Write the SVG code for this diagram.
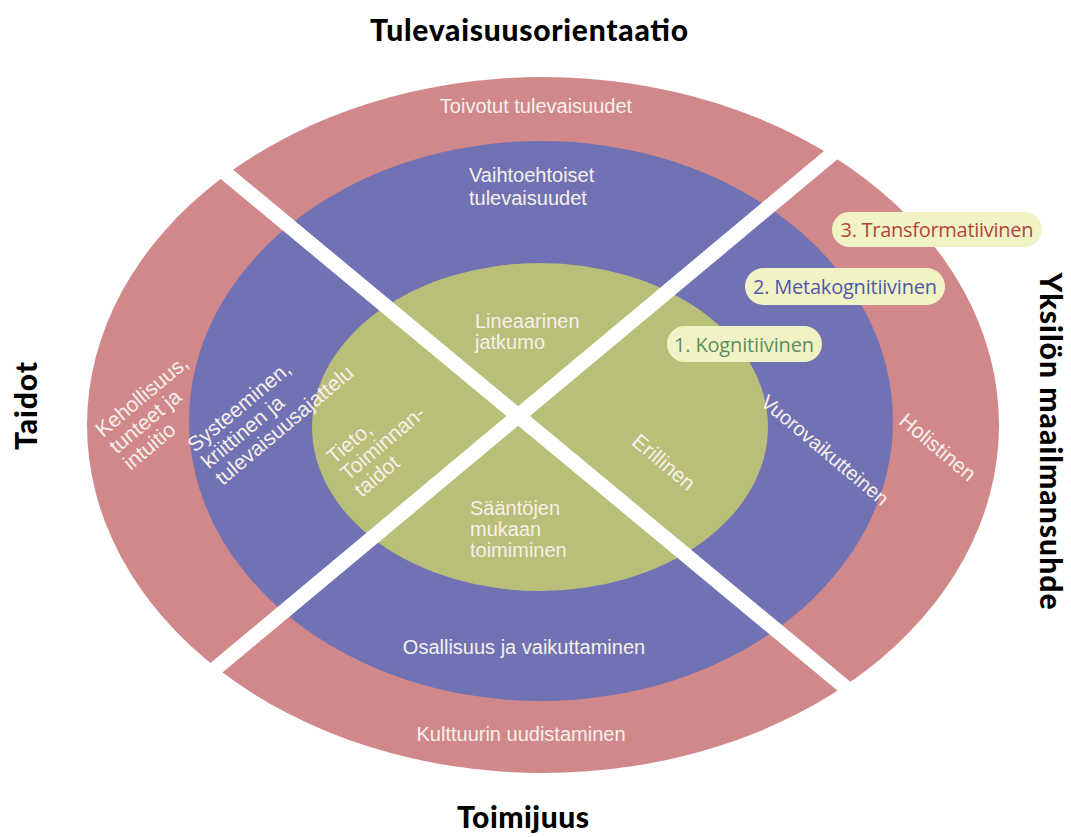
<svg xmlns="http://www.w3.org/2000/svg" width="1071" height="837" viewBox="0 0 1071 837">
<style>
.pink{fill:#d1888a}
.blue{fill:#7172b3}
.green{fill:#b9be78}
.lbl{font-family:"Liberation Sans",Arial,sans-serif;font-size:20px;fill:#f6f0ea}
.r{font-size:21px}
.c{text-anchor:middle}
.rc{text-anchor:middle;dominant-baseline:central}
.pill{fill:#f2f3c5}
.pt{font-family:"Open Sans","Noto Sans",sans-serif;font-size:20px;text-anchor:middle}
.ttl{font-family:Lato,"Noto Sans",sans-serif;font-weight:900;font-size:30px;fill:#000;text-anchor:middle}
.div{stroke:#fff;stroke-width:15;fill:none}
</style>
<rect width="1071" height="837" fill="#fff"/>
<g id="ring-outer">
<ellipse class="pink" cx="543" cy="425" rx="456" ry="348"/>
</g>
<g id="ring-middle">
<ellipse class="blue" cx="541" cy="421" rx="352" ry="280"/>
</g>
<g id="ring-inner">
<ellipse class="green" cx="540" cy="427" rx="228" ry="164"/>
</g>
<g id="connectors">
<line class="div" x1="130" y1="94" x2="910" y2="741"/>
<line class="div" x1="910" y1="89" x2="130" y2="740"/>
</g>
<g id="top-outer"><text class="lbl c" x="536" y="113">Toivotut tulevaisuudet</text></g>
<g id="top-middle"><text class="lbl" x="469" y="182">Vaihtoehtoiset</text><text class="lbl" x="469" y="205">tulevaisuudet</text></g>
<g id="top-inner"><text class="lbl" x="475" y="328">Lineaarinen</text><text class="lbl" x="475" y="349">jatkumo</text></g>
<g id="bottom-inner"><text class="lbl" x="470" y="515">Sääntöjen</text><text class="lbl" x="470" y="536">mukaan</text><text class="lbl" x="470" y="557">toimiminen</text></g>
<g id="bottom-middle"><text class="lbl c" x="524" y="654">Osallisuus ja vaikuttaminen</text></g>
<g id="bottom-outer"><text class="lbl c" x="521" y="741">Kulttuurin uudistaminen</text></g>
<g id="left-outer" transform="translate(103,438) rotate(-40)"><text class="lbl r" x="0" y="0">Kehollisuus,</text><text class="lbl r" x="0" y="21.5">tunteet ja</text><text class="lbl r" x="0" y="43">intuitio</text></g>
<g id="left-middle" transform="translate(195,453) rotate(-40)"><text class="lbl r" x="0" y="0">Systeeminen,</text><text class="lbl r" x="0" y="21.5">kriittinen ja</text><text class="lbl r" x="0" y="43">tulevaisuusajattelu</text></g>
<g id="left-inner" transform="translate(334,465) rotate(-40)"><text class="lbl r" x="0" y="0">Tieto,</text><text class="lbl r" x="0" y="21.5">Toiminnan-</text><text class="lbl r" x="0" y="43">taidot</text></g>
<g id="right-inner"><text class="lbl r rc" transform="translate(664,462) rotate(40)">Erillinen</text></g>
<g id="right-middle"><text class="lbl rc" transform="translate(825,450) rotate(40)">Vuorovaikutteinen</text></g>
<g id="right-outer"><text class="lbl r rc" transform="translate(938,447) rotate(40)">Holistinen</text></g>
<g id="level-3"><rect class="pill" x="832" y="212" width="210" height="35" rx="17.5"/><text class="pt" x="937" y="236.5" fill="#b0463b" textLength="193">3. Transformatiivinen</text></g>
<g id="level-2"><rect class="pill" x="745" y="268" width="200" height="37" rx="18.5"/><text class="pt" x="845" y="293.5" fill="#5056a8" textLength="184">2. Metakognitiivinen</text></g>
<g id="level-1"><rect class="pill" x="667" y="326" width="155" height="36" rx="18"/><text class="pt" x="744" y="351.5" fill="#5e8c5e" textLength="140">1. Kognitiivinen</text></g>
<g id="title-top"><text class="ttl" x="529" y="41" textLength="318">Tulevaisuusorientaatio</text></g>
<g id="title-bottom"><text class="ttl" x="523" y="828" textLength="132">Toimijuus</text></g>
<g id="title-left"><text class="ttl" transform="translate(37,406) rotate(-90)" textLength="88">Taidot</text></g>
<g id="title-right"><text class="ttl" transform="translate(1040,441) rotate(90)" textLength="337">Yksilön maailmansuhde</text></g>
</svg>
